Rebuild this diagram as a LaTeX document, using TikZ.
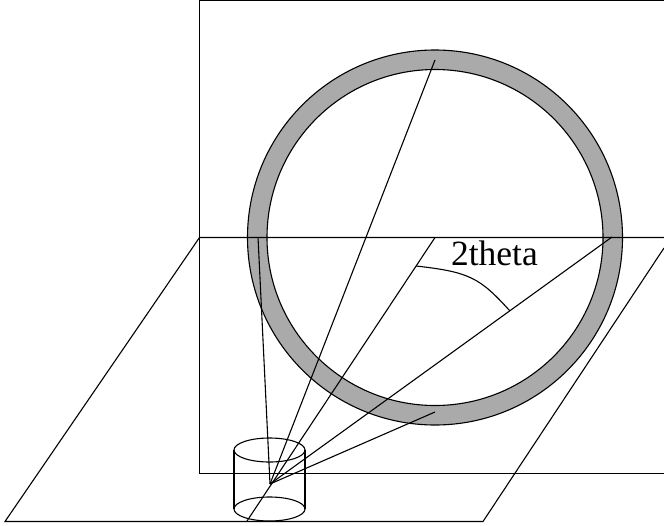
\documentclass[tikz,border=0pt]{standalone}
\usepackage{fontspec}
\setmainfont{Liberation Serif}
\usetikzlibrary{positioning}
\definecolor{ringgray}{RGB}{170, 170, 170}

\begin{document}
\begin{tikzpicture}[x=1pt, y=-1pt, line width=1.1pt]
            \useasboundingbox (0,0) rectangle (664,525);
            \coordinate (apex) at (270,484);
            \coordinate (center) at (435,237.5);

            % detector and sample plane
            \draw (664,0.8) -- (199.5,0.8) -- (199.5,473.5) -- (664,473.5);
            \draw[even odd rule, fill=ringgray] (center) circle[radius=187.5] (center) circle[radius=168];
            \draw (664,237.5) -- (199.5,237.5) -- (5,521.5) -- (483,521.5) -- (664,248);

            % cylinder
            \draw (234,450) -- (234,509);
            \draw (305,450) -- (305,509);
            \draw (269.5,450) ellipse[x radius=35.5, y radius=12];
            \draw (269.5,509) ellipse[x radius=35.5, y radius=12];

            % rays
            \coordinate (ray1) at (435,60);
            \coordinate (ray2) at (258,237);
            \coordinate (ray3) at (612,237);
            \coordinate (ray4) at (435,412);
            \coordinate (beam) at (247,521);
            \foreach \r in {ray1, ray2, ray3, ray4} {
                \draw (apex) -- (\r);
            }
            \draw (beam) -- (center);

            % angle
            \coordinate (arcstart) at (416,266);
            \coordinate (arcend) at (510,311);
            \draw (arcstart) .. controls (470,272) and (480,278) .. (arcend);
            \node[inner sep=0pt, anchor=base west, font=\fontsize{35.5}{35.5}\selectfont] (angle) at (450.5,265) {2theta};
        \end{tikzpicture}
\end{document}
